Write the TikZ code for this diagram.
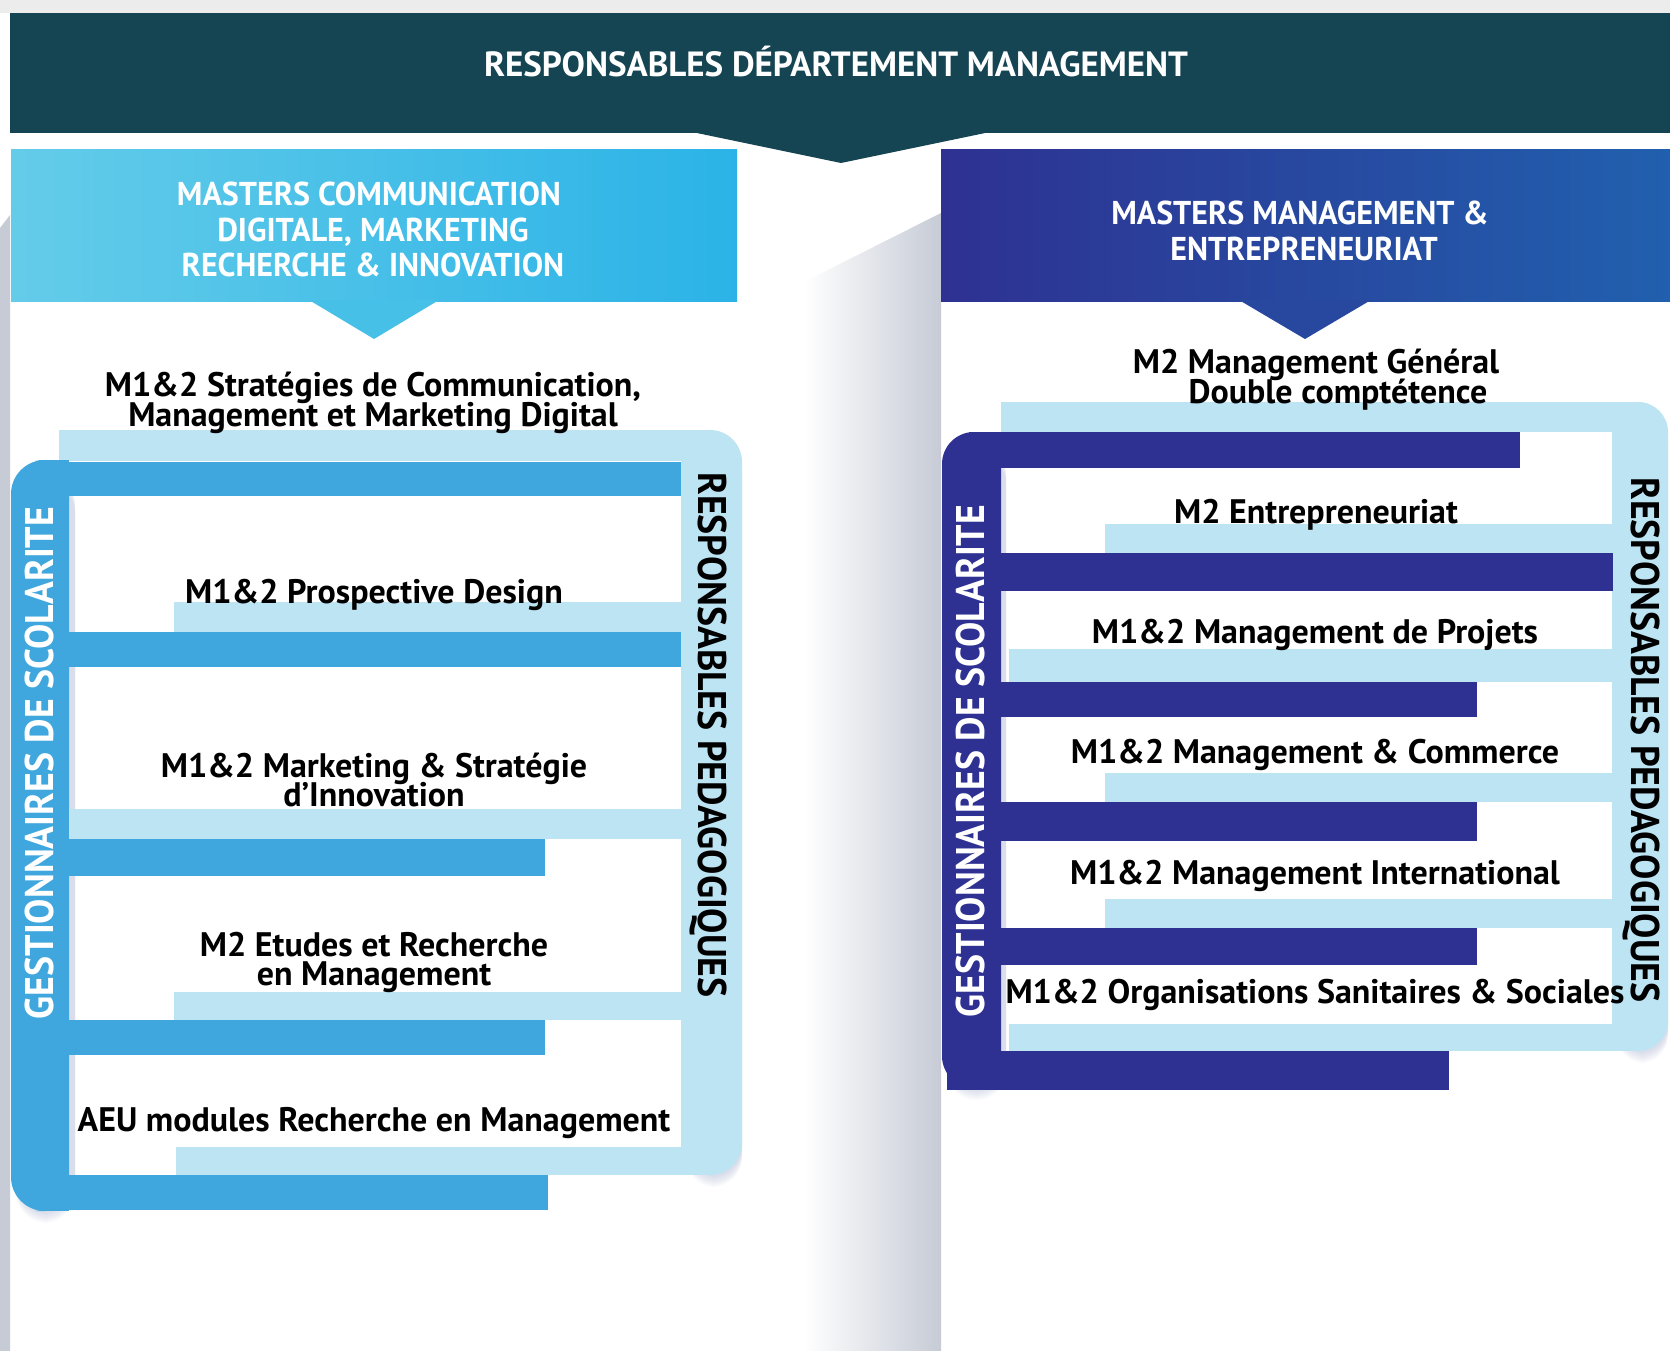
\documentclass[tikz,border=0pt]{standalone}
\usepackage{fontspec}
\setmainfont{PT Sans}
\newfontfamily\ptsans{PT Sans}
\newfontfamily\ptcond{PT Sans}[FakeStretch=0.97]
\newfontfamily\ptside{PT Sans}[FakeStretch=0.945]
\definecolor{banner}{RGB}{21,68,82}
\definecolor{lhL}{RGB}{100,204,233}
\definecolor{lhR}{RGB}{43,179,231}
\definecolor{rhL}{RGB}{46,49,146}
\definecolor{rhR}{RGB}{33,96,174}
\definecolor{ldark}{RGB}{63,167,221}
\definecolor{lightb}{RGB}{189,228,243}
\definecolor{rdark}{RGB}{46,49,146}
\definecolor{gshade}{RGB}{198,203,214}
\definecolor{topgray}{RGB}{236,236,236}
\definecolor{shadowc}{RGB}{130,140,190}
\tikzset{
  lbar/.style={fill=lightb},
  ldbar/.style={fill=ldark},
  rdbar/.style={fill=rdark},
  bodytxt/.style={font=\ptsans\bfseries\fontsize{34}{29}\selectfont, inner sep=0pt, anchor=base, text=black},
  firstline/.style={bodytxt, text depth=0pt},
  headtxt/.style={font=\ptcond\bfseries\fontsize{33}{33}\selectfont, inner sep=0pt, anchor=base, text=white},
  bantxt/.style={font=\ptsans\bfseries\fontsize{35}{35}\selectfont, inner sep=0pt, anchor=base, text=white},
  sidetxt/.style={font=\ptside\bfseries\fontsize{40}{40}\selectfont, inner sep=0pt, anchor=base},
}
\begin{document}
\begin{tikzpicture}[x=1pt,y=-1pt]
\useasboundingbox (0,0) rectangle (1670,1351);
\fill[white] (0,0) rectangle (1670,1351);
% background
\fill[topgray] (0,0) rectangle (1670,13);
\fill[gshade] (0,228) -- (10,215) -- (10,1351) -- (0,1351) -- cycle;
\shade[left color=white, right color=gshade] (804,282) -- (941,213) -- (941,1351) -- (804,1351) -- cycle;
% top banner
\fill[banner] (10,13) rectangle (1670,133);
\fill[banner] (692,132) -- (990,132) -- (841,163) -- cycle;
\node[bantxt] (ban) at (836,77) {RESPONSABLES DÉPARTEMENT MANAGEMENT};
% left header
\shade[left color=lhL, right color=lhR] (11,150) rectangle (737,301);
\fill[lhL!50!lhR] (309,300) -- (439,300) -- (374,339) -- cycle;
\node[headtxt] (lh1) at (369,206) {MASTERS COMMUNICATION};
\node[headtxt] (lh2) at (373,241) {DIGITALE, MARKETING};
\node[headtxt] (lh3) at (373,276) {RECHERCHE \& INNOVATION};
% right header
\shade[left color=rhL, right color=rhR] (941,150) rectangle (1670,301);
\fill[rhL!50!rhR] (1239,300) -- (1371,300) -- (1305,339) -- cycle;
\node[headtxt] (rh1) at (1300,225) {MASTERS MANAGEMENT \&};
\node[headtxt] (rh2) at (1304,260) {ENTREPRENEURIAT};

% ---------- left column ----------
\foreach \d in {2,4,...,12} {
  \fill[shadowc, opacity=0.05, rounded corners=32] (16,470+\d) rectangle (75,1211+\d);
  \fill[shadowc, opacity=0.05, rounded corners=30] (686,440+\d) rectangle (742,1175+\d);
}
% light bracket (responsables)
\fill[lbar] (59,430) rectangle (712,461);
\fill[lbar, rounded corners=32] (681,430) rectangle (742,1175);
\fill[lbar] (681,430) rectangle (712,1175);
% dark bracket (gestionnaires)
\fill[ldbar, rounded corners=34] (11,460) rectangle (69,1211);
\fill[ldbar] (40,460) rectangle (69,1211);
% bars
\fill[ldbar] (69,462) rectangle (681,496);
\fill[lbar] (174,602) rectangle (690,632);
\fill[ldbar] (69,632) rectangle (681,667);
\fill[lbar] (69,809) rectangle (690,839);
\fill[ldbar] (69,839) rectangle (545,876);
\fill[lbar] (174,992) rectangle (690,1020);
\fill[ldbar] (69,1020) rectangle (545,1055);
\fill[lbar] (176,1147) rectangle (712,1175);
\fill[ldbar] (40,1175) rectangle (548,1210);
% texts
\node[firstline] (l1a) at (373,396) {M1\&2 Stratégies de Communication,};
\node[bodytxt] (l1b) at (373,426) {Management et Marketing Digital};
\node[bodytxt] (l2) at (374,603) {M1\&2 Prospective Design};
\node[firstline] (l3a) at (374,777) {M1\&2 Marketing \& Stratégie};
\node[bodytxt] (l3b) at (374,806) {d’Innovation};
\node[firstline] (l4a) at (374,956) {M2 Etudes et Recherche};
\node[bodytxt] (l4b) at (374,985) {en Management};
\node[bodytxt] (l5) at (374,1131) {AEU modules Recherche en Management};
\node[sidetxt, text=white, rotate=90] (lg) at (53,763) {GESTIONNAIRES DE SCOLARITE};
\node[sidetxt, text=black, rotate=-90] (lr) at (698,735) {RESPONSABLES PEDAGOGIQUES};

% ---------- right column ----------
\foreach \d in {2,4,...,12} {
  \fill[shadowc, opacity=0.05, rounded corners=30] (947,442+\d) rectangle (1006,1088+\d);
  \fill[shadowc, opacity=0.05, rounded corners=28] (1617,412+\d) rectangle (1668,1051+\d);
}
\fill[lbar] (1001,402) rectangle (1640,432);
\fill[lbar, rounded corners=30] (1612,402) rectangle (1668,1051);
\fill[lbar] (1612,402) rectangle (1640,1051);
\fill[rdbar, rounded corners=32] (942,432) rectangle (1001,1088);
\fill[rdbar] (970,432) rectangle (1001,1060);
\fill[rdbar] (1001,432) rectangle (1520,468);
\fill[lbar] (1105,524) rectangle (1620,553);
\fill[rdbar] (1001,553) rectangle (1613,591);
\fill[lbar] (1009,649) rectangle (1620,682);
\fill[rdbar] (1001,682) rectangle (1477,717);
\fill[lbar] (1105,773) rectangle (1620,802);
\fill[rdbar] (1001,802) rectangle (1477,841);
\fill[lbar] (1105,899) rectangle (1620,928);
\fill[rdbar] (1001,928) rectangle (1477,965);
\fill[lbar] (1009,1024) rectangle (1640,1051);
\fill[rdbar] (947,1051) rectangle (1449,1090);
\node[firstline] (r1a) at (1316,373) {M2 Management Général};
\node[bodytxt] (r1b) at (1338,403) {Double comptétence};
\node[bodytxt] (r2) at (1316,523) {M2 Entrepreneuriat};
\node[bodytxt] (r3) at (1315,643) {M1\&2 Management de Projets};
\node[bodytxt] (r4) at (1315,763) {M1\&2 Management \& Commerce};
\node[bodytxt] (r5) at (1315,884) {M1\&2 Management International};
\node[bodytxt] (r6) at (1315,1003) {M1\&2 Organisations Sanitaires \& Sociales};
\node[sidetxt, text=white, rotate=90] (rg) at (984,761) {GESTIONNAIRES DE SCOLARITE};
\node[sidetxt, text=black, rotate=-90] (rr) at (1631,740) {RESPONSABLES PEDAGOGIQUES};
\end{tikzpicture}
\end{document}
